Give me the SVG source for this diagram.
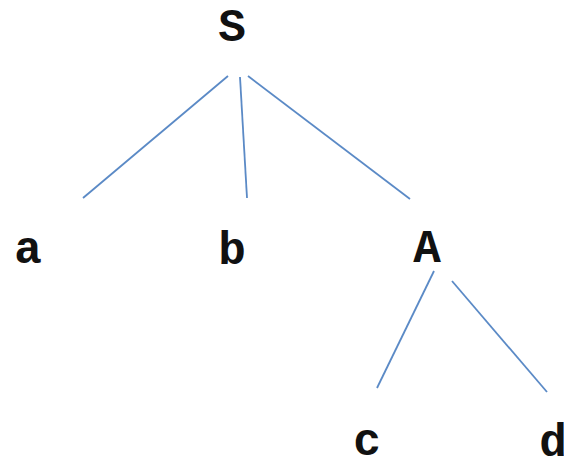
<svg xmlns="http://www.w3.org/2000/svg" width="564" height="463" viewBox="0 0 564 463">
<style>
.lbl{font-family:"Liberation Mono","Courier New",monospace;font-weight:bold;font-size:46px;fill:#111;text-anchor:middle}
.edge{stroke:#5b8ac6;stroke-width:1.8;fill:none}
</style>
<rect width="564" height="463" fill="#fff"/>
<g id="connectors">
<line class="edge" x1="228" y1="76" x2="83" y2="198"/>
<line class="edge" x1="240" y1="77" x2="247" y2="198"/>
<line class="edge" x1="248" y1="76" x2="410" y2="199"/>
<line class="edge" x1="434" y1="271" x2="377" y2="388"/>
<line class="edge" x1="452" y1="281" x2="547" y2="392"/>
</g>
<g id="node-S"><text class="lbl" x="232" y="41">S</text></g>
<g id="node-a"><text class="lbl" x="28" y="263">a</text></g>
<g id="node-b"><text class="lbl" x="232" y="264">b</text></g>
<g id="node-A"><text class="lbl" x="427" y="262">A</text></g>
<g id="node-c"><text class="lbl" x="367" y="455">c</text></g>
<g id="node-d"><text class="lbl" x="553" y="456">d</text></g>
</svg>
